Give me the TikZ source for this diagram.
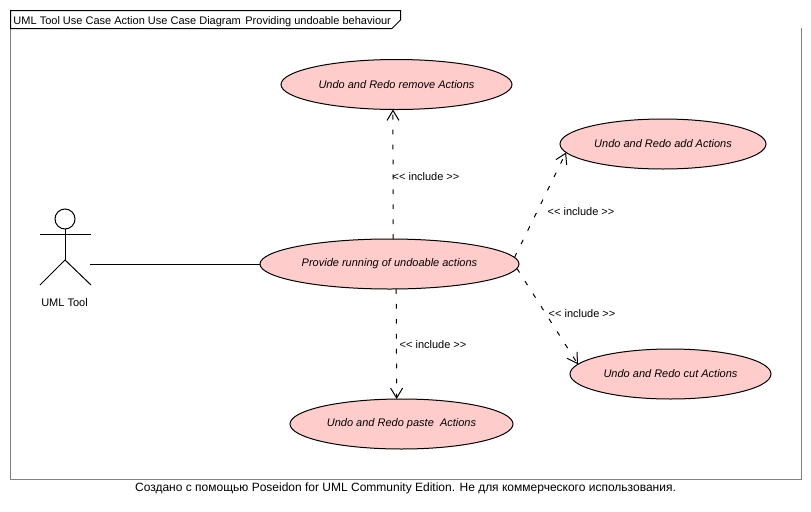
\documentclass[tikz,border=0pt]{standalone}
\usepackage{fontspec}
\setmainfont{Liberation Sans}
\usetikzlibrary{shapes.geometric,arrows.meta}
\definecolor{casepink}{HTML}{FFCCCC}
\definecolor{framegray}{HTML}{808080}
\newcommand{\incltext}{<{}< include >{}>}
\tikzset{
  px/.style={x=0.75pt,y=-0.75pt},
  usecase/.style={ellipse,draw=black,fill=casepink,line width=0.75pt,inner sep=0pt,outer sep=0pt,minimum height=37.5pt,font=\fontsize{8.25pt}{10pt}\selectfont\itshape},
  label/.style={inner sep=0pt,outer sep=0pt,font=\fontsize{8.25pt}{10pt}\selectfont},
  stick/.style={line width=0.75pt,draw=black},
  incl/.style={line width=0.75pt,draw=black,dash pattern=on 3.6pt off 7.6pt,-{Straight Barb[length=7.5pt,width=9pt,line width=0.75pt]}},
}
\begin{document}
\begin{tikzpicture}[px]
\useasboundingbox (0,0) rectangle (811,511);
\fill[white] (0,0) rectangle (811,511);
% frame
\draw[line width=0.75pt,framegray] (10.5,28) -- (10.5,479.5) -- (801.5,479.5) -- (801.5,28);
\draw[line width=0.75pt,black,fill=white] (10.5,10.5) -- (400.5,10.5) -- (400.5,20) -- (392,28.5) -- (10.5,28.5) -- cycle;
\node[label,anchor=base west] (title) at (13.5,24) {UML Tool Use Case Action Use Case Diagram\ \hspace{1.1pt}Providing undoable behaviour};
% use cases
\node[usecase,minimum width=173.25pt] (A) at (396.5,84.5) {Undo and Redo remove Actions};
\node[usecase,minimum width=154.5pt] (B) at (663,144) {Undo and Redo add Actions};
\node[usecase,minimum width=194.25pt] (C) at (389.5,264) {Provide running of undoable actions};
\node[usecase,minimum width=150.75pt] (D) at (670.5,374) {Undo and Redo cut Actions};
\node[usecase,minimum width=167.25pt] (E) at (401.5,424) {Undo and Redo paste\ \ Actions};
% actor
\node[circle,stick,inner sep=0pt,outer sep=0pt,minimum size=15pt] (head) at (65,219) {};
\coordinate (hip) at (65,260);
\coordinate (handL) at (40,234);
\coordinate (handR) at (91,234);
\coordinate (footL) at (40,285);
\coordinate (footR) at (91,285);
\coordinate (actorEnd) at (90,264);
\draw[stick] (head.south) -- (hip);
\draw[stick] (handL) -- (handR);
\draw[stick] (footL) -- (hip) -- (footR);
\node[label] (actorName) at (64.5,302.7) {UML Tool};
% connectors
\draw[stick] (actorEnd) -- (C.west);
\draw[incl] (C.82) -- (A.262);
\draw[incl] (C.-75.4) -- (E.101.3);
\draw[incl] (C.3.5) -- (B.185.8);
\draw[incl] (C.-2.8) -- (D.174.4);
% labels
\node[label] (l1) at (426,176.7) {\incltext};
\node[label] (l2) at (581,211.7) {\incltext};
\node[label] (l3) at (582,313.7) {\incltext};
\node[label] (l4) at (433,344.7) {\incltext};
\node[label,font=\fontsize{9pt}{11pt}\selectfont] (foot) at (405.5,488) {Создано с помощью Poseidon for UML Community Edition. Не для коммерческого использования.};
\end{tikzpicture}
\end{document}
